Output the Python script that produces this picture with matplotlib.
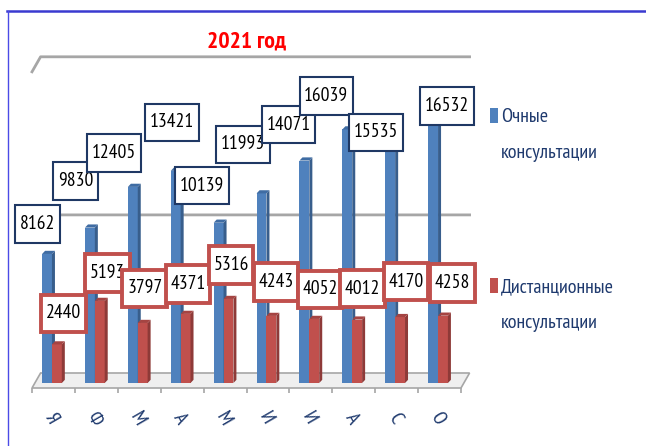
import matplotlib
matplotlib.use("Agg")
import matplotlib.pyplot as plt
from matplotlib.path import Path
from matplotlib.patches import Polygon, Rectangle
from matplotlib.lines import Line2D

months = ['Я', 'Ф', 'М', 'А', 'М', 'И', 'И', 'А', 'С', 'О']
ochnye = [8162, 9830, 12405, 13421, 10139, 11993, 14071, 16039, 15535, 16532]
distant = [2440, 5193, 3797, 4371, 5316, 4243, 4052, 4012, 4170, 4258]
series_names = ['Очные консультации', 'Дистанционные консультации']
title = '2021 год'

# data labels were placed by hand in the original, offsets in px from bar top
blue_off = [(-9.5, 30), (-14.5, 46.5), (-19, 34), (-4, 48.5), (-16.6, 37),
            (-18.5, 49), (-16, 36), (-21, 33.5), (-14, 5), (14, 15.5)]
red_off = [(6.5, 31), (8, 28), (2, 34.5), (2.4, 30), (2.5, 34),
           (4.6, 34), (5.7, 29.5), (5, 31), (6, 35.5), (9.5, 32.5)]

plt.rcParams['font.family'] = ['PT Sans Narrow', 'DejaVu Sans']

W, H = 646, 446
fig = plt.figure(figsize=(W / 100, H / 100), dpi=100)
ax = fig.add_axes([32 / W, (H - 388) / H, 429 / W, 337 / H])
ax.set_xlim(0, 10)
ax.set_ylim(-316, 21000)
for s in ax.spines.values():
    s.set_visible(False)

grey = '#A6A6A6'
navy = '#1F3A6E'
back_dx, back_dy = 0.2, 949

# floor
ax.add_patch(Polygon([(0, -316), (10, -316), (10 + back_dx, 633), (back_dx, 633)],
                     closed=True, fc='#EFEFEF', ec=grey, lw=1.2, clip_on=False, zorder=1))
# back wall gridlines
for v in [10000, 20000]:
    ax.plot([0, back_dx, 10 + back_dx], [v - 316, v + 633, v + 633],
            color=grey, lw=2, zorder=1, clip_on=False)


def bar3d(xc, h, w, face, side, top):
    dx, dy = 0.07, 200
    x0, x1 = xc - w / 2, xc + w / 2
    ax.add_patch(Rectangle((x0, 0), w, h, fc=face, ec='none', zorder=2))
    ax.add_patch(Polygon([(x1, 0), (x1 + dx, dy), (x1 + dx, h + dy), (x1, h)],
                         fc=side, ec='none', zorder=2))
    ax.add_patch(Polygon([(x0, h), (x1, h), (x1 + dx, h + dy), (x0 + dx, h + dy)],
                         fc=top, ec='none', zorder=2))


for i in range(len(months)):
    bar3d(i + 0.35, ochnye[i], 0.23, '#4F81BD', '#385E8C', '#3F6CA3')
    bar3d(i + 0.58, distant[i], 0.23, '#C0504D', '#8E3A38', '#A54442')


def label_box(x0, y0, width, height, mutation_size):
    px, py = 0.24 * mutation_size, 0.5 * mutation_size
    x0, y0 = x0 - px, y0 - py
    x1, y1 = x0 + width + 2 * px, y0 + height + 2 * py
    return Path([(x0, y0), (x1, y0), (x1, y1), (x0, y1), (x0, y0)], closed=True)


for i, v in enumerate(ochnye):
    ax.annotate(str(v), xy=(i + 0.35, v), xytext=blue_off[i], textcoords='offset pixels',
                ha='center', va='center', fontsize=14, color='black', zorder=5,
                annotation_clip=False,
                bbox=dict(boxstyle=label_box, fc='white', ec='#1F3864', lw=1.5))
for i, v in enumerate(distant):
    ax.annotate(str(v), xy=(i + 0.58, v), xytext=red_off[i], textcoords='offset pixels',
                ha='center', va='center', fontsize=14, color='black', zorder=6,
                annotation_clip=False,
                bbox=dict(boxstyle=label_box, fc='white', ec='#C0504D', lw=2.8))

ax.set_xticks([i + 0.45 for i in range(len(months))], months)
ax.set_xticks(range(11), minor=True)
ax.tick_params(axis='x', which='major', length=0, pad=22, labelsize=14.5, labelcolor=navy)
ax.tick_params(axis='x', which='minor', length=3.6, width=1.2, color=grey, direction='out')
for lbl in ax.get_xticklabels():
    lbl.set_rotation(-60)
    lbl.set_va('center')
    lbl.set_ha('center')
ax.tick_params(axis='y', left=False, labelleft=False)

fig.text(247 / W, 1 - 42 / H, title, color='#FF0000', fontsize=17, fontweight='bold',
         ha='center', va='center')

# legend
leg_colors = ['#4F81BD', '#C0504D']
leg_y = [117, 287]
for name, c, y in zip(series_names, leg_colors, leg_y):
    fig.add_artist(Rectangle((490 / W, 1 - (y + 6) / H), 8 / W, 15 / H,
                             transform=fig.transFigure, fc=c, ec='none'))
    for k, word in enumerate(name.split()):
        fig.text(501 / W, 1 - (y + 36 * k) / H, word, color=navy, fontsize=14.5,
                 ha='left', va='center')

# slide frame
fig.add_artist(Line2D([7 / W, 1], [1 - 10.5 / H] * 2, transform=fig.transFigure,
                      color='#3A3AD0', lw=1.8))
fig.add_artist(Line2D([8 / W] * 2, [0, 1 - 10.5 / H], transform=fig.transFigure,
                      color='#4B4BE6', lw=1.0))

fig.savefig('out.png', dpi=100)
